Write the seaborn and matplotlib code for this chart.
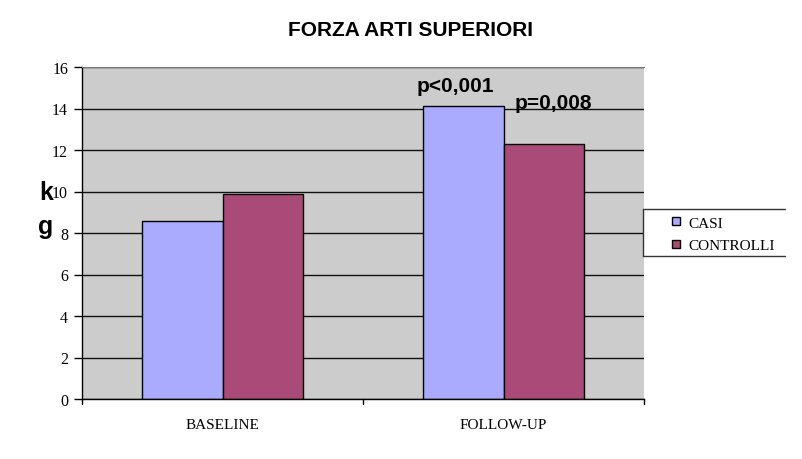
import matplotlib
matplotlib.use("Agg")
import matplotlib.pyplot as plt
import seaborn as sns
import pandas as pd
from matplotlib.patches import Patch
from matplotlib.lines import Line2D

categories = ["BASELINE", "FOLLOW-UP"]
casi = [8.6, 14.1]
controlli = [9.9, 12.3]
series_names = ["CASI", "CONTROLLI"]
pvalues = ["p<0,001", "p=0,008"]
yticks = [0, 2, 4, 6, 8, 10, 12, 14, 16]

df = pd.DataFrame({
    "cat": categories * 2,
    "val": casi + controlli,
    "serie": [series_names[0]] * 2 + [series_names[1]] * 2,
})

sns.set_style("white")
plt.rcParams.update({"text.color": "black", "xtick.color": "black",
                     "ytick.color": "black", "axes.labelcolor": "black"})
colors = {"CASI": "#aaaaff", "CONTROLLI": "#aa4a78"}

fig = plt.figure(figsize=(8.02, 4.6), dpi=100)
ax = fig.add_axes([82 / 802, 60 / 460, 562 / 802, 332 / 460])
ax.set_facecolor("#cccccc")
ax.set_axisbelow(True)
ax.yaxis.grid(True, color="#111111", linewidth=1.0)

sns.barplot(data=df, x="cat", y="val", hue="serie", order=categories,
            hue_order=series_names, palette=colors, width=0.57, gap=0,
            edgecolor="black", linewidth=1.0, saturation=1, ax=ax, legend=False)

ax.set_xlim(-0.5, 1.5)
ax.set_ylim(0, 16)
ax.set_yticks(yticks)
ax.set_yticklabels([str(t) for t in yticks], family="Liberation Serif", fontsize=11.5)
ax.set_xticks([0, 1])
ax.set_xticklabels(categories, family="Liberation Serif", fontsize=11)
ax.tick_params(axis="x", length=0, pad=14)
ax.tick_params(axis="y", length=6, width=1, color="black", direction="out", pad=4, left=True)
for b in [-0.5, 0.5, 1.5]:
    ax.plot([b, b], [0, -0.25], color="black", lw=1, clip_on=False)
ax.set_xlabel("")
ax.set_ylabel("")
for s in ["left", "bottom"]:
    ax.spines[s].set_color("black")
    ax.spines[s].set_linewidth(1)
ax.spines["top"].set_color("#777777")
ax.spines["right"].set_visible(False)

# p-value annotations
ax.text(0.827, 15.1, pvalues[0], ha="center", va="center",
        family="Liberation Sans", fontweight="bold", fontsize=15)
ax.text(1.176, 14.31, pvalues[1], ha="center", va="center",
        family="Liberation Sans", fontweight="bold", fontsize=15)

# y label k / g
fig.text(46 / 802, 1 - 193 / 460, "k", ha="center", va="center",
         family="Liberation Sans", fontweight="bold", fontsize=18)
fig.text(46 / 802, 1 - 227 / 460, "g", ha="center", va="center",
         family="Liberation Sans", fontweight="bold", fontsize=18)

fig.text(411 / 802, 1 - 31 / 460, "FORZA ARTI SUPERIORI", ha="center", va="center",
         family="Liberation Sans", fontweight="bold", fontsize=15)

# legend frame (top, left, bottom edges)
x0, x1, y0, y1 = 643 / 802, 785 / 802, 1 - 210 / 460, 1 - 257 / 460
for xs, ys in [([x0, x1], [y0, y0]), ([x0, x0], [y0, y1]), ([x0, x1], [y1, y1])]:
    fig.add_artist(Line2D(xs, ys, color="#333333", lw=1, transform=fig.transFigure))

handles = [Patch(facecolor=colors[n], edgecolor="black", label=n) for n in series_names]
leg = fig.legend(handles=handles, loc="center left",
                 bbox_to_anchor=(672 / 802, 1 - 235.5 / 460),
                 prop={"family": "Liberation Serif", "size": 11},
                 frameon=False, handlelength=0.5, handleheight=0.5,
                 handletextpad=0.6, borderpad=0, labelspacing=0.65, borderaxespad=0)

fig.savefig("out.png", dpi=100)
